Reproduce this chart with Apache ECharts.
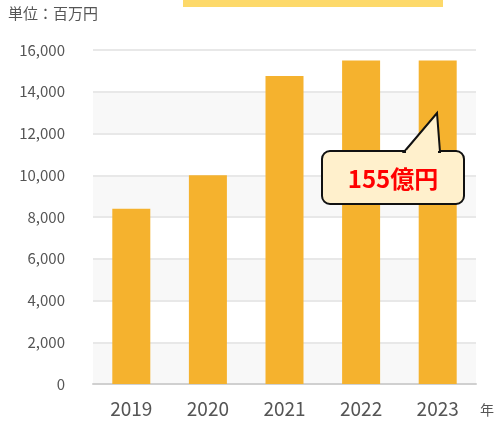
<!DOCTYPE html>
<html>
<head>
<meta charset="utf-8">
<script src="https://cdn.jsdelivr.net/npm/echarts@6/dist/echarts.min.js"></script>
<style>
  html, body { margin: 0; padding: 0; background: #fff; }
  #app { width: 497px; height: 421px; }
</style>
</head>
<body>
<div id="app"></div>
<script>
var years = ["2019", "2020", "2021", "2022", "2023"];
var sales = [8400, 10000, 14750, 15500, 15500];
var unitLabel = "単位：百万円";
var calloutText = "155億円";

var font = "'Noto Sans CJK JP', 'Noto Sans', sans-serif";
var myChart = echarts.init(document.getElementById("app"));

var option = {
  animation: false,
  textStyle: { fontFamily: font },
  grid: { left: 93, right: 16, top: 50, bottom: 37 },
  xAxis: {
    type: "category",
    data: years,
    name: "年",
    nameLocation: "end",
    nameGap: 4,
    nameTextStyle: { color: "#555", fontSize: 14, verticalAlign: "top", padding: [19, 0, 0, 0] },
    axisLine: { lineStyle: { color: "#d0d0d0", width: 2 } },
    axisTick: { show: false },
    axisLabel: { color: "#555", fontSize: 19, margin: 15 }
  },
  yAxis: {
    type: "value",
    min: 0,
    max: 16000,
    interval: 2000,
    axisLine: { show: false },
    axisTick: { show: false },
    axisLabel: {
      color: "#555",
      fontSize: 15,
      margin: 28,
      formatter: function (v) { return v.toLocaleString("en-US"); }
    },
    splitLine: { lineStyle: { color: "#e8e8e8", width: 2 } },
    splitArea: { show: true, areaStyle: { color: ["#f8f8f8", "#ffffff"] } }
  },
  series: [
    {
      type: "bar",
      data: sales,
      barWidth: 38,
      itemStyle: { color: "#f5b22e" }
    }
  ],
  graphic: [
    {
      type: "rect",
      shape: { x: 183, y: 0, width: 260, height: 7 },
      style: { fill: "#fdd96a" }
    },
    {
      type: "text",
      left: 8,
      top: 6,
      style: { text: unitLabel, fill: "#555", fontSize: 15, fontFamily: font }
    },
    {
      type: "rect",
      shape: { x: 322, y: 151, width: 142, height: 53, r: 8 },
      style: { fill: "#fff0cc", stroke: "#111", lineWidth: 2 },
      z: 10
    },
    {
      type: "polygon",
      shape: { points: [[404, 152], [437, 113], [440, 152]] },
      style: { fill: "#fff0cc", stroke: "#111", lineWidth: 2, lineJoin: "miter" },
      z: 11
    },
    {
      type: "polyline",
      shape: { points: [[406, 152], [438, 152]] },
      style: { stroke: "#fff0cc", lineWidth: 3 },
      z: 12
    },
    {
      type: "text",
      x: 393,
      y: 179,
      style: {
        text: calloutText,
        fill: "#ff0000",
        fontSize: 24,
        fontWeight: "bold",
        fontFamily: font,
        align: "center",
        verticalAlign: "middle"
      },
      z: 13
    }
  ]
};

myChart.setOption(option);
</script>
</body>
</html>
